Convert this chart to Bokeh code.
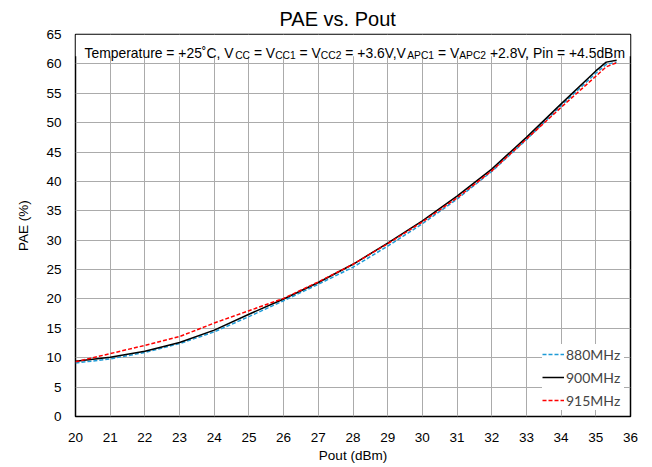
from bokeh.plotting import figure
from bokeh.models import Label, BoxAnnotation, Legend, LegendItem, FixedTicker, Range1d
from bokeh.embed import file_html
from bokeh.resources import INLINE

# Output power sweep (dBm) and power-added efficiency (%) per frequency
pout = [20, 21, 22, 23, 24, 25, 26, 27, 28, 29, 30, 31, 32, 33, 34, 35, 35.3, 35.6]
pae_880 = [9.1, 9.8, 10.9, 12.4, 14.4, 17.0, 19.7, 22.5, 25.4, 29.0, 32.8, 37.0, 41.7, 47.1, 52.9, 58.4, 59.9, 60.3]
pae_900 = [9.4, 10.1, 11.1, 12.6, 14.7, 17.4, 20.0, 22.8, 25.9, 29.5, 33.3, 37.5, 42.1, 47.5, 53.2, 58.8, 60.3, 60.6]
pae_915 = [9.3, 10.7, 12.1, 13.6, 15.9, 18.0, 20.1, 22.9, 25.9, 29.4, 33.1, 37.2, 41.8, 47.2, 52.6, 57.9, 59.5, 60.2]

x_ticks = list(range(20, 37))
y_ticks = list(range(0, 66, 5))

FONT = "Liberation Sans"

p = figure(width=652, height=467, output_backend="svg", toolbar_location=None,
           x_range=Range1d(20, 36), y_range=Range1d(0, 65),
           min_border_left=75, min_border_right=22, min_border_top=34, min_border_bottom=51)

p.background_fill_color = "white"
p.border_fill_color = "white"
p.outline_line_color = "black"
p.outline_line_width = 1.5

p.title.text = "PAE vs. Pout"
p.title.align = "left"
p.title.offset = 204
p.title.standoff = 9
p.title.text_font = FONT
p.title.text_font_size = "20px"
p.title.text_font_style = "normal"
p.title.text_color = "black"

p.xaxis.ticker = FixedTicker(ticks=x_ticks)
p.yaxis.ticker = FixedTicker(ticks=y_ticks)
p.xgrid.ticker = FixedTicker(ticks=x_ticks)
p.ygrid.ticker = FixedTicker(ticks=y_ticks)
for g in (p.xgrid, p.ygrid):
    g.grid_line_color = "#ABABAB"
    g.grid_line_width = 1

for ax in (p.xaxis, p.yaxis):
    ax.axis_line_color = None
    ax.major_tick_line_color = None
    ax.minor_tick_line_color = None
    ax.major_label_text_font = FONT
    ax.major_label_text_font_size = "13.5px"
    ax.major_label_text_color = "black"
    ax.axis_label_text_font = FONT
    ax.axis_label_text_font_size = "13.5px"
    ax.axis_label_text_font_style = "normal"
    ax.axis_label_text_color = "black"

p.xaxis.axis_label = "Pout (dBm)"
p.yaxis.axis_label = "PAE (%)"
p.xaxis.major_label_standoff = 10
p.yaxis.major_label_standoff = 8
p.xaxis.axis_label_standoff = 3
p.yaxis.axis_label_standoff = 12

# White strip behind the test-condition note
p.add_layout(BoxAnnotation(left=20, right=36, bottom=61.3, top=65, fill_color="white",
                           fill_alpha=1, line_color=None, level="underlay"))

r880 = p.line(pout, pae_880, line_color="#1E9BD7", line_width=1.5, line_dash="4 2")
r900 = p.line(pout, pae_900, line_color="black", line_width=1.5)
r915 = p.line(pout, pae_915, line_color="#FF0000", line_width=1.5, line_dash="4 2")

legend = Legend(items=[LegendItem(label="880MHz", renderers=[r880]),
                       LegendItem(label="900MHz", renderers=[r900]),
                       LegendItem(label="915MHz", renderers=[r915])],
                location="bottom_right", background_fill_color="white", background_fill_alpha=1,
                border_line_color=None, label_text_font="Lato", label_text_font_size="14px",
                glyph_width=22, glyph_height=20, label_height=20, label_width=58, label_standoff=2,
                spacing=3, padding=4, margin=6)
p.add_layout(legend)

# Test-condition note: runs of normal text and subscripts, laid out one after another
# using Arial/Liberation Sans advance widths (units per 1000 em).  Leading spaces are
# advanced over rather than drawn, since SVG text collapses them.
ADV = {" ": 278, "T": 611, "e": 556, "m": 833, "p": 556, "r": 333, "a": 556, "t": 278,
       "u": 556, "=": 584, "+": 584, "2": 556, "5": 556, "\u02da": 333, "C": 722, ",": 278,
       "V": 667, "1": 556, "3": 556, ".": 278, "6": 556, "A": 667, "P": 667, "8": 556,
       "i": 222, "n": 556, "4": 556, "d": 556, "B": 667}
MAIN_SIZE, SUB_SIZE = 13.9, 10.3
NOTE_LEFT, BASELINE, SUB_DROP = 84, 52, 2.5
runs = [
    ("Temperature = +25\u02daC, V", False), ("CC", True),
    (" = V", False), ("CC1", True),
    (" = V", False), ("CC2", True),
    (" = +3.6V,V", False), ("APC1", True),
    (" = V", False), ("APC2", True),
    (" +2.8V, Pin = +4.5dBm", False),
]
FRAME_LEFT, FRAME_BOTTOM = 75, 416
cursor = NOTE_LEFT
for txt, is_sub in runs:
    size = SUB_SIZE if is_sub else MAIN_SIZE
    base = BASELINE + (SUB_DROP if is_sub else 0)
    shown = txt.lstrip(" ")
    cursor += (len(txt) - len(shown)) * ADV[" "] * size / 1000
    p.add_layout(Label(x=cursor - FRAME_LEFT, y=FRAME_BOTTOM - base, x_units="screen", y_units="screen",
                       text=shown, text_font=FONT, text_font_size=f"{size}px", text_color="black",
                       text_baseline="alphabetic", text_align="left"))
    cursor += sum(ADV.get(ch, 556) for ch in shown) * size / 1000

open("out.html", "w").write(file_html(p, INLINE))
